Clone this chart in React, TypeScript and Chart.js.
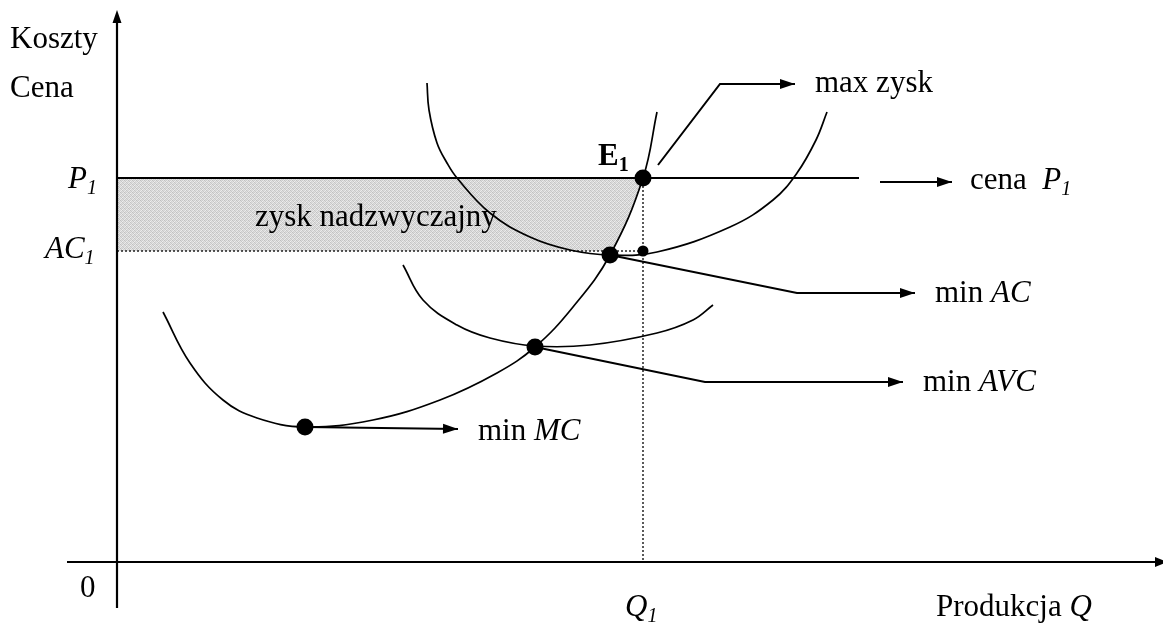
import React, { useEffect, useRef } from "react";
import { Chart, registerables } from "chart.js";
Chart.register(...registerables);

// ---- economic values (data units) ----
const P1 = 38.4;
const AC1 = 31.1;
const Q1 = 52.6;

// Marginal cost curve
const mcX = [4.6, 7.3, 10.6, 14.0, 18.8, 25.6, 32.3, 38.0, 41.8, 45.6, 49.3, 52.6, 54.0];
const mcY = [25.0, 19.9, 16.2, 14.4, 13.5, 14.2, 16.2, 18.9, 21.5, 25.5, 30.7, 38.4, 45.0];
// Average cost curve
const acX = [31.0, 31.2, 32.0, 33.0, 34.0, 37.3, 41.3, 45.3, 49.3, 54.0, 61.3, 65.6, 68.0, 69.9, 71.0];
const acY = [47.9, 45.2, 41.9, 39.9, 38.4, 34.9, 32.5, 31.2, 30.7, 31.0, 33.5, 36.2, 38.9, 42.2, 45.0];
// Average variable cost curve
const avcX = [28.6, 30.6, 34.0, 37.3, 41.8, 47.3, 54.0, 57.6, 59.6];
const avcY = [29.7, 26.2, 23.7, 22.4, 21.6, 21.7, 22.9, 24.2, 25.7];

// key points: min MC, min AVC, min AC, E1
const keyX = [18.8, 41.8, 49.3, Q1];
const keyY = [13.5, 21.5, 30.7, P1];

// shaded profit area: lower boundary = AC1 then MC, filled up to price P1
const shadeX = [0, 49.6, 50.5, 51.3, 52.0, Q1];
const shadeY = [AC1, AC1, 33.0, 34.9, 36.7, P1];

// pointer lines
const ptrMinMC = { x: [18.8, 34.1], y: [13.5, 13.3] };
const ptrMinAVC = { x: [41.8, 58.8, 78.6], y: [21.5, 18.0, 18.0] };
const ptrMinAC = { x: [49.3, 68.0, 79.8], y: [30.7, 26.9, 26.9] };
const ptrCena = { x: [76.3, 83.5], y: [38.0, 38.0] };
const ptrMaxZysk = { x: [54.1, 60.3, 67.8], y: [39.7, 47.8, 47.8] };
const priceLineEnd = 74.2;

const pts = (xs: number[], ys: number[]) => xs.map((x, i) => ({ x, y: ys[i] }));

type Part = { t: string; s?: "i" | "b"; sub?: boolean };
type Lbl = { x: number; y: number; parts: Part[] };

const LABELS: Lbl[] = [
  { x: -10.7, y: 51.4, parts: [{ t: "Koszty" }] },
  { x: -10.7, y: 46.5, parts: [{ t: "Cena" }] },
  { x: -4.9, y: 37.4, parts: [{ t: "P", s: "i" }, { t: "1", s: "i", sub: true }] },
  { x: -7.2, y: 30.4, parts: [{ t: "AC", s: "i" }, { t: "1", s: "i", sub: true }] },
  { x: -3.7, y: -3.5, parts: [{ t: "0" }] },
  { x: 50.8, y: -5.4, parts: [{ t: "Q", s: "i" }, { t: "1", s: "i", sub: true }] },
  { x: 81.9, y: -5.4, parts: [{ t: "Produkcja " }, { t: "Q", s: "i" }] },
  { x: 13.8, y: 33.6, parts: [{ t: "zysk nadzwyczajny" }] },
  { x: 48.1, y: 39.7, parts: [{ t: "E", s: "b" }, { t: "1", s: "b", sub: true }] },
  { x: 69.8, y: 47.0, parts: [{ t: "max zysk" }] },
  { x: 85.3, y: 37.3, parts: [{ t: "cena  " }, { t: "P", s: "i" }, { t: "1", s: "i", sub: true }] },
  { x: 81.8, y: 26.0, parts: [{ t: "min " }, { t: "AC", s: "i" }] },
  { x: 80.6, y: 17.1, parts: [{ t: "min " }, { t: "AVC", s: "i" }] },
  { x: 36.1, y: 12.2, parts: [{ t: "min " }, { t: "MC", s: "i" }] },
];

const FONT = "'Liberation Serif', 'Times New Roman', serif";
const FS = 31;
const SUB = 20;

function makePattern(): CanvasPattern | string {
  const c = document.createElement("canvas");
  c.width = 4;
  c.height = 4;
  const g = c.getContext("2d");
  if (!g) return "#d4d4d4";
  const v = [192, 220, 204, 232, 226, 198, 238, 210, 212, 236, 196, 220, 234, 206, 224, 200];
  v.forEach((val, i) => {
    g.fillStyle = `rgb(${val},${val},${val})`;
    g.fillRect(i % 4, Math.floor(i / 4), 1, 1);
  });
  return g.createPattern(c, "repeat") || "#d4d4d4";
}

function arrowHead(ctx: CanvasRenderingContext2D, x0: number, y0: number, x1: number, y1: number, len: number, half: number) {
  const a = Math.atan2(y1 - y0, x1 - x0);
  ctx.beginPath();
  ctx.moveTo(x1, y1);
  ctx.lineTo(x1 - len * Math.cos(a) + half * Math.sin(a), y1 - len * Math.sin(a) - half * Math.cos(a));
  ctx.lineTo(x1 - len * Math.cos(a) - half * Math.sin(a), y1 - len * Math.sin(a) + half * Math.cos(a));
  ctx.closePath();
  ctx.fill();
}

const overlay = {
  id: "overlay",
  afterDatasetsDraw(chart: any) {
    const ctx: CanvasRenderingContext2D = chart.ctx;
    const xs = chart.scales.x;
    const ys = chart.scales.y;
    const px = (v: number) => xs.getPixelForValue(v);
    const py = (v: number) => ys.getPixelForValue(v);
    ctx.save();
    ctx.fillStyle = "#000";
    ctx.strokeStyle = "#000";
    // axes
    ctx.lineWidth = 2.2;
    ctx.beginPath();
    ctx.moveTo(px(-5), py(0));
    ctx.lineTo(px(104.4), py(0));
    ctx.moveTo(px(0), py(-4.6));
    ctx.lineTo(px(0), py(54.0));
    ctx.stroke();
    arrowHead(ctx, px(90), py(0), px(105.0), py(0), 12, 5);
    arrowHead(ctx, px(0), py(40), px(0), py(55.2), 13, 4.5);
    // arrowheads of pointer lines
    const ptrs = [ptrMinMC, ptrMinAVC, ptrMinAC, ptrCena, ptrMaxZysk];
    ptrs.forEach((p) => {
      const n = p.x.length;
      arrowHead(ctx, px(p.x[n - 2]), py(p.y[n - 2]), px(p.x[n - 1]), py(p.y[n - 1]), 15, 5);
    });
    // labels
    ctx.textBaseline = "alphabetic";
    ctx.textAlign = "left";
    LABELS.forEach((l) => {
      let cx = px(l.x);
      const by = py(l.y);
      l.parts.forEach((p) => {
        const style = p.s === "i" ? "italic " : p.s === "b" ? "bold " : "";
        const size = p.sub ? SUB : FS;
        ctx.font = `${style}${size}px ${FONT}`;
        ctx.fillText(p.t, cx, by + (p.sub ? 6 : 0));
        cx += ctx.measureText(p.t).width;
      });
    });
    ctx.restore();
  },
};

export default function App() {
  const ref = useRef<HTMLCanvasElement>(null);
  useEffect(() => {
    document.body.style.margin = "0";
    if (!ref.current) return;
    const black = "#000";
    const line = (data: any[], extra: any = {}) => ({
      type: "line",
      data,
      borderColor: black,
      borderWidth: 1.7,
      pointRadius: 0,
      fill: false,
      tension: 0,
      order: 5,
      ...extra,
    });
    const chart = new Chart(ref.current, {
      type: "scatter",
      data: {
        datasets: [
          line(pts(shadeX, shadeY), {
            borderWidth: 0,
            borderColor: "rgba(0,0,0,0)",
            backgroundColor: makePattern(),
            fill: { value: P1 },
            order: 100,
          }),
          line([{ x: 0, y: AC1 }, { x: Q1, y: AC1 }], { borderWidth: 1.3, borderDash: [2, 2], order: 50 }),
          line([{ x: Q1, y: P1 }, { x: Q1, y: 0 }], { borderWidth: 1.3, borderDash: [2, 2], order: 50 }),
          line([{ x: 0, y: P1 }, { x: priceLineEnd, y: P1 }], { borderWidth: 2 }),
          line(pts(mcX, mcY), { tension: 0.4 }),
          line(pts(acX, acY), { tension: 0.4 }),
          line(pts(avcX, avcY), { tension: 0.4 }),
          line(pts(ptrMinMC.x, ptrMinMC.y), { borderWidth: 2 }),
          line(pts(ptrMinAVC.x, ptrMinAVC.y), { borderWidth: 2 }),
          line(pts(ptrMinAC.x, ptrMinAC.y), { borderWidth: 2 }),
          line(pts(ptrCena.x, ptrCena.y), { borderWidth: 2 }),
          line(pts(ptrMaxZysk.x, ptrMaxZysk.y), { borderWidth: 2 }),
          {
            type: "scatter",
            data: pts(keyX, keyY),
            pointRadius: 8.5,
            pointBackgroundColor: black,
            pointBorderWidth: 0,
            order: 1,
          },
          {
            type: "scatter",
            data: [{ x: Q1, y: AC1 }],
            pointRadius: 5.5,
            pointBackgroundColor: black,
            pointBorderWidth: 0,
            order: 1,
          },
        ] as any,
      },
      options: {
        animation: false,
        responsive: false,
        maintainAspectRatio: false,
        layout: { padding: 0, autoPadding: false },
        plugins: { legend: { display: false }, tooltip: { enabled: false } },
        scales: {
          x: { type: "linear", min: -11.7, max: 104.6, display: false },
          y: { type: "linear", min: -6.3, max: 56.2, display: false },
        },
        clip: false as any,
      } as any,
      plugins: [overlay],
    });
    return () => chart.destroy();
  }, []);
  return (
    <div style={{ position: "absolute", left: 0, top: 0, width: 1163, height: 625, background: "#fff" }}>
      <canvas ref={ref} width={1163} height={625} />
    </div>
  );
}
